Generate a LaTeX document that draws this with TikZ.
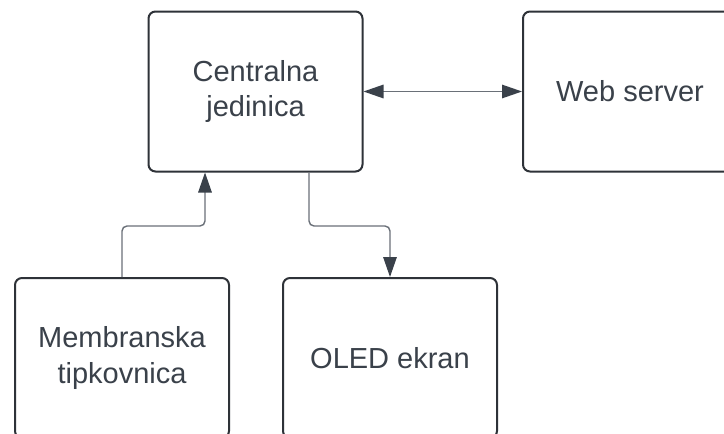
\documentclass[tikz,border=0pt]{standalone}
\usepackage{fontspec}
\setmainfont{Liberation Sans}
\usetikzlibrary{arrows.meta,calc}
\definecolor{boxline}{HTML}{2E3238}
\definecolor{txt}{HTML}{3A414A}
\definecolor{connc}{HTML}{6A7078}
\definecolor{tipc}{HTML}{3A414A}
\tikzset{
  blockbox/.style={draw=boxline, line width=2pt, rounded corners=7pt, fill=white,
    minimum width=214pt, minimum height=160pt, inner sep=0pt, align=center,
    text=txt, font=\fontsize{29}{35.5}\selectfont},
  conn/.style={draw=connc, line width=1.4pt, rounded corners=5pt},
  mytip/.tip={Triangle[length=20pt,width=13.5pt,color=tipc,fill=tipc]}
}
\begin{document}
\begin{tikzpicture}[x=1pt,y=-1pt]
\useasboundingbox (0,0) rectangle (724,434);
\fill[white] (0,0) rectangle (724,434);
\clip (0,0) rectangle (724,434);
\node[blockbox] (cent) at (255.5,91.5) {Centralna\\jedinica};
\node[blockbox] (web) at (630,91.5) {Web server};
\node[blockbox] (memb) at (122,358) {Membranska\\tipkovnica};
\node[blockbox] (oled) at (390,358) {OLED ekran};
\coordinate (midA) at (0,226);
\draw[conn,-{mytip}] (memb.north) -- (memb.north |- midA) -| ([xshift=-50.5pt]cent.south);
\draw[conn,-{mytip}] ([xshift=53.5pt]cent.south) -- ([xshift=53.5pt]cent.south |- midA) -| (oled.north);
\draw[conn,{mytip}-{mytip}] (cent.east) -- (web.west);
\end{tikzpicture}
\end{document}
